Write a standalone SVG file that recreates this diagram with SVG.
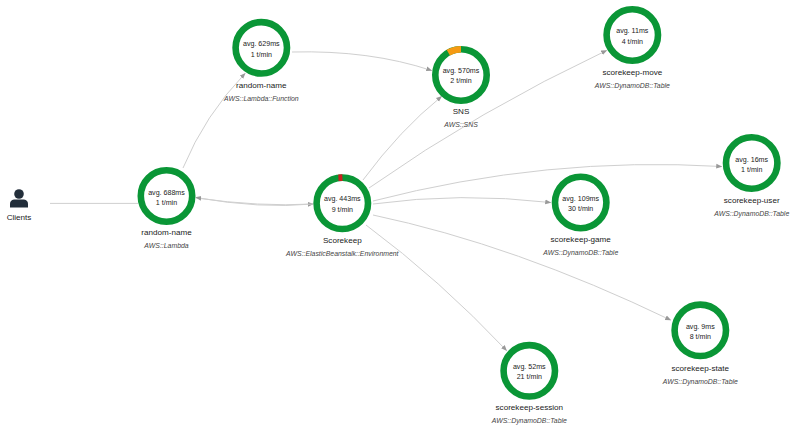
<svg xmlns="http://www.w3.org/2000/svg" width="800" height="433" viewBox="0 0 800 433">
<style>
text{font-family:"Liberation Sans",Arial,sans-serif;text-anchor:middle;fill:#222}
.m{font-size:7.100px}
.n{font-size:8.100px}
.t{font-size:6.900px;font-style:italic;fill:#444}
.r{fill:#fff;stroke:#0a9636;stroke-width:6.600}
.e{fill:none;stroke:#cfcfcf;stroke-width:1;marker-end:url(#a)}
</style>
<defs><marker id="a" viewBox="0 0 8 8" refX="7" refY="4" markerWidth="6" markerHeight="6" markerUnits="userSpaceOnUse" orient="auto"><path d="M0 0.8L8 4L0 7.2Z" fill="#999"/></marker></defs>
<rect width="800" height="433" fill="#fff"/>
<g id="connectors">
<path class="e" style="marker-end:none" d="M50 203.400H138"/>
<path class="e" d="M196 198Q260 207 313 204"/>
<path class="e" d="M313 204Q260 209 196 197.500"/>
<path class="e" d="M183 168Q205 115 245 73.500"/>
<path class="e" d="M292 52Q370 50 431.500 70.500"/>
<path class="e" d="M363 180Q400 130 441.500 96.500"/>
<path class="e" d="M369 188Q480 110 606.500 50.500"/>
<path class="e" d="M373 201Q547 156 721.500 166.500"/>
<path class="e" d="M373 204Q460 192 550.500 202.500"/>
<path class="e" d="M373 215Q515 245 670.500 320"/>
<path class="e" d="M366 225Q440 280 506.500 350.500"/>
</g>
<g id="clients">
<circle cx="19" cy="194" r="4.800" fill="#222e3a"/>
<path d="M10 207.500V204Q10 200 14 199.500H24Q28 200 28 204V207.500Z" fill="#222e3a"/>
<text class="n" x="19" y="220">Clients</text>
</g>
<g id="lambda"><circle class="r" cx="166.500" cy="196" r="25.700"/><text class="m" x="166.500" y="194.500">avg. 688ms</text><text class="m" x="166.500" y="204.500">1 t/min</text><text class="n" x="166.500" y="235">random-name</text><text class="t" x="166.500" y="248">AWS::Lambda</text></g>
<g id="function"><circle class="r" cx="261.300" cy="47.800" r="25.700"/><text class="m" x="261.300" y="46">avg. 629ms</text><text class="m" x="261.300" y="56.500">1 t/min</text><text class="n" x="261.300" y="88">random-name</text><text class="t" x="261.300" y="100.500">AWS::Lambda::Function</text></g>
<g id="scorekeep"><circle class="r" cx="342.300" cy="203.300" r="25.700"/><path d="M338.400 177.800L342.400 177.600" stroke="#c8201e" stroke-width="6.600" fill="none"/><text class="m" x="342.300" y="201">avg. 443ms</text><text class="m" x="342.300" y="211.500">9 t/min</text><text class="n" x="342.300" y="243">Scorekeep</text><text class="t" x="342.300" y="256">AWS::ElasticBeanstalk::Environment</text></g>
<g id="sns"><circle class="r" cx="461" cy="75" r="25.700"/><path d="M448.300 52.700A25.700 25.700 0 0 1 461 49.300" stroke="#f59a12" stroke-width="6.600" fill="none"/><text class="m" x="461" y="72.500">avg. 570ms</text><text class="m" x="461" y="82.500">2 t/min</text><text class="n" x="461" y="114">SNS</text><text class="t" x="461" y="126.500">AWS::SNS</text></g>
<g id="move"><circle class="r" cx="632.300" cy="35" r="25.700"/><text class="m" x="632.300" y="33">avg. 11ms</text><text class="m" x="632.300" y="43.500">4 t/min</text><text class="n" x="632.300" y="75">scorekeep-move</text><text class="t" x="632.300" y="87.500">AWS::DynamoDB::Table</text></g>
<g id="user"><circle class="r" cx="751.700" cy="163" r="25.700"/><text class="m" x="751.700" y="162">avg. 16ms</text><text class="m" x="751.700" y="172">1 t/min</text><text class="n" x="751.700" y="203">scorekeep-user</text><text class="t" x="751.700" y="216">AWS::DynamoDB::Table</text></g>
<g id="game"><circle class="r" cx="580.700" cy="202.500" r="25.700"/><text class="m" x="580.700" y="200.500">avg. 109ms</text><text class="m" x="580.700" y="211">30 t/min</text><text class="n" x="580.700" y="242">scorekeep-game</text><text class="t" x="580.700" y="255">AWS::DynamoDB::Table</text></g>
<g id="state"><circle class="r" cx="700.300" cy="330.300" r="25.700"/><text class="m" x="700.300" y="329">avg. 9ms</text><text class="m" x="700.300" y="339">8 t/min</text><text class="n" x="700.300" y="371">scorekeep-state</text><text class="t" x="700.300" y="384">AWS::DynamoDB::Table</text></g>
<g id="session"><circle class="r" cx="529.300" cy="370.800" r="25.700"/><text class="m" x="529.300" y="368.500">avg. 52ms</text><text class="m" x="529.300" y="378.500">21 t/min</text><text class="n" x="529.300" y="409.500">scorekeep-session</text><text class="t" x="529.300" y="422.500">AWS::DynamoDB::Table</text></g>
</svg>
